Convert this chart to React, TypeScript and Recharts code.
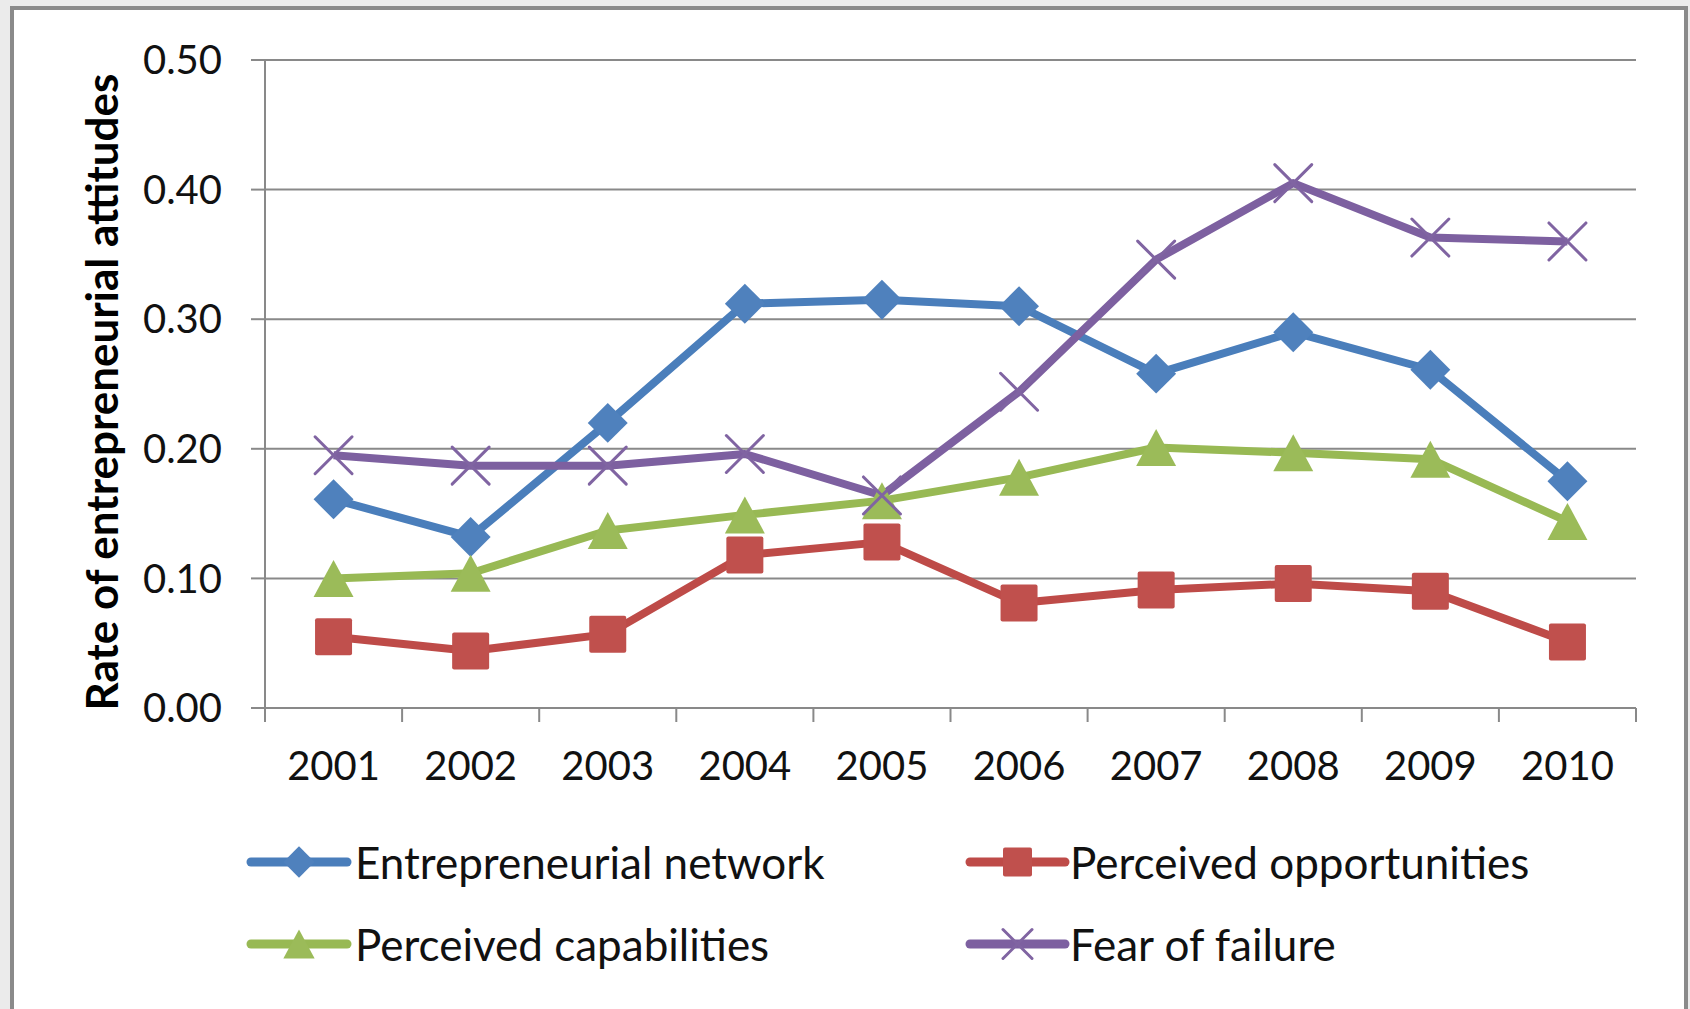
import React from 'react';
import { LineChart, Line, XAxis, YAxis, CartesianGrid, Legend } from 'recharts';

const YEARS = [2001, 2002, 2003, 2004, 2005, 2006, 2007, 2008, 2009, 2010];
const NETWORK = [0.161, 0.132, 0.22, 0.312, 0.315, 0.31, 0.258, 0.29, 0.261, 0.175];
const OPPORTUNITIES = [0.055, 0.044, 0.057, 0.118, 0.128, 0.081, 0.091, 0.096, 0.09, 0.051];
const CAPABILITIES = [0.1, 0.104, 0.137, 0.149, 0.16, 0.178, 0.201, 0.197, 0.192, 0.144];
const FEAR = [0.195, 0.187, 0.187, 0.196, 0.164, 0.244, 0.346, 0.405, 0.363, 0.36];
const Y_TICKS = [0, 0.1, 0.2, 0.3, 0.4, 0.5];
const SERIES_NAMES = ['Entrepreneurial network', 'Perceived opportunities', 'Perceived capabilities', 'Fear of failure'];
const SERIES_KEYS = ['network', 'opportunities', 'capabilities', 'fear'];
const LINE_COLORS = ['#4A7EBB', '#BE4B48', '#98B954', '#7D60A0'];
const MARKER_COLORS = ['#4F81BD', '#C0504D', '#9BBB59', '#8064A2'];
const MARKERS = ['diamond', 'square', 'triangle', 'cross'];
const Y_TITLE = 'Rate of entrepreneurial attitudes';

const data = YEARS.map((year, i) => ({
  year,
  network: NETWORK[i],
  opportunities: OPPORTUNITIES[i],
  capabilities: CAPABILITIES[i],
  fear: FEAR[i],
}));

const X_TICKS: number[] = [];
YEARS.forEach((y, i) => {
  if (i === 0) X_TICKS.push(y - 0.5);
  X_TICKS.push(y);
  X_TICKS.push(y + 0.5);
});

const GRAY = '#898989';
const FONT = 'Lato, "Open Sans", sans-serif';

function markerShape(kind: string, cx: number, cy: number, size: number, color: string, key?: string) {
  const h = size / 2;
  if (kind === 'diamond') {
    const d = h * 1.08;
    return <path key={key} d={`M${cx},${cy - d} L${cx + d},${cy} L${cx},${cy + d} L${cx - d},${cy} Z`} fill={color} />;
  }
  if (kind === 'square') {
    return <rect key={key} x={cx - h} y={cy - h} width={size} height={size} fill={color} rx={2} />;
  }
  if (kind === 'triangle') {
    const w = h * 1.08;
    return <path key={key} d={`M${cx},${cy - h} L${cx + w},${cy + h} L${cx - w},${cy + h} Z`} fill={color} />;
  }
  return (
    <g key={key} stroke={color} strokeWidth={3} strokeLinecap="round">
      <line x1={cx - h} y1={cy - h} x2={cx + h} y2={cy + h} />
      <line x1={cx - h} y1={cy + h} x2={cx + h} y2={cy - h} />
    </g>
  );
}

const makeDot = (s: number) => (props: any) => {
  const { cx, cy, index } = props;
  if (cx == null || cy == null) return <g key={`${SERIES_KEYS[s]}-${index}`} />;
  return markerShape(MARKERS[s], cx, cy, 37, MARKER_COLORS[s], `${SERIES_KEYS[s]}-${index}`);
};

const XTick = (props: any) => {
  const { x, y, payload } = props;
  const v = payload.value;
  if (Number.isInteger(v)) {
    return (
      <text x={x} y={y + 72} textAnchor="middle" fill="#111" fontSize={40} fontFamily={FONT}>
        {String(v)}
      </text>
    );
  }
  return <line x1={x} y1={y} x2={x} y2={y + 14} stroke={GRAY} strokeWidth={2} />;
};

const YTitle = (props: any) => {
  const { viewBox } = props;
  const cx = viewBox.x + 101;
  const cy = viewBox.y + viewBox.height / 2 + 8;
  return (
    <text
      x={cx}
      y={cy}
      transform={`rotate(-90 ${cx} ${cy})`}
      textAnchor="middle"
      dominantBaseline="central"
      fontSize={44}
      fontWeight={700}
      fontFamily={FONT}
      fill="#000"
    >
      {Y_TITLE}
    </text>
  );
};

const LEGEND_COLS = [{ x1: 251, x2: 347, tx: 355 }, { x1: 970, x2: 1065, tx: 1070 }];
const LEGEND_ROWS = [42, 124];

const renderLegend = () => (
  <svg width={1690} height={170} style={{ overflow: 'visible', display: 'block' }}>
    {SERIES_NAMES.map((name, i) => {
      const col = LEGEND_COLS[i % 2];
      const y = LEGEND_ROWS[Math.floor(i / 2)];
      const mx = (col.x1 + col.x2) / 2;
      return (
        <g key={name}>
          <line x1={col.x1} y1={y} x2={col.x2} y2={y} stroke={LINE_COLORS[i]} strokeWidth={9} strokeLinecap="round" />
          {markerShape(MARKERS[i], mx, y, 29, MARKER_COLORS[i])}
          <text x={col.tx} y={y} dominantBaseline="central" fontSize={44} fontFamily={FONT} fill="#111">
            {name}
          </text>
        </g>
      );
    })}
  </svg>
);

export default function App() {
  return (
    <div style={{ position: 'absolute', left: 0, top: 0, width: 1690, height: 1009, background: '#ebebeb', overflow: 'hidden' }}>
      <div
        style={{
          position: 'absolute',
          left: 10,
          top: 6,
          width: 1678,
          height: 1100,
          boxSizing: 'border-box',
          border: '4px solid #8a8a8a',
          background: '#ffffff',
        }}
      />
      <div style={{ position: 'absolute', left: 0, top: 0 }}>
        <LineChart width={1690} height={1009} data={data} margin={{ top: 60, right: 54, left: 0, bottom: 221 }}>
          <CartesianGrid horizontal vertical={false} stroke={GRAY} strokeWidth={2} />
          <XAxis
            dataKey="year"
            type="number"
            domain={[2000.5, 2010.5]}
            ticks={X_TICKS}
            interval={0}
            allowDecimals
            height={80}
            tickSize={0}
            tickMargin={0}
            tickLine={false}
            axisLine={{ stroke: GRAY, strokeWidth: 2 }}
            tick={<XTick />}
          />
          <YAxis
            type="number"
            domain={[0, 0.5]}
            ticks={Y_TICKS}
            interval={0}
            width={265}
            tickSize={14}
            tickMargin={29}
            tickFormatter={(v: number) => v.toFixed(2)}
            tickLine={{ stroke: GRAY, strokeWidth: 2 }}
            axisLine={{ stroke: GRAY, strokeWidth: 2 }}
            tick={{ fill: '#111', fontSize: 40, fontFamily: FONT }}
            label={{ content: <YTitle /> }}
          />
          {SERIES_KEYS.map((k, i) => (
            <Line
              key={k}
              type="linear"
              dataKey={k}
              name={SERIES_NAMES[i]}
              stroke={LINE_COLORS[i]}
              strokeWidth={8}
              strokeLinejoin="round"
              dot={makeDot(i)}
              activeDot={false}
              isAnimationActive={false}
            />
          ))}
          <Legend
            content={renderLegend}
            wrapperStyle={{ position: 'absolute', left: 0, top: 820, width: 1690, height: 0, bottom: 'auto' }}
          />
        </LineChart>
      </div>
    </div>
  );
}
